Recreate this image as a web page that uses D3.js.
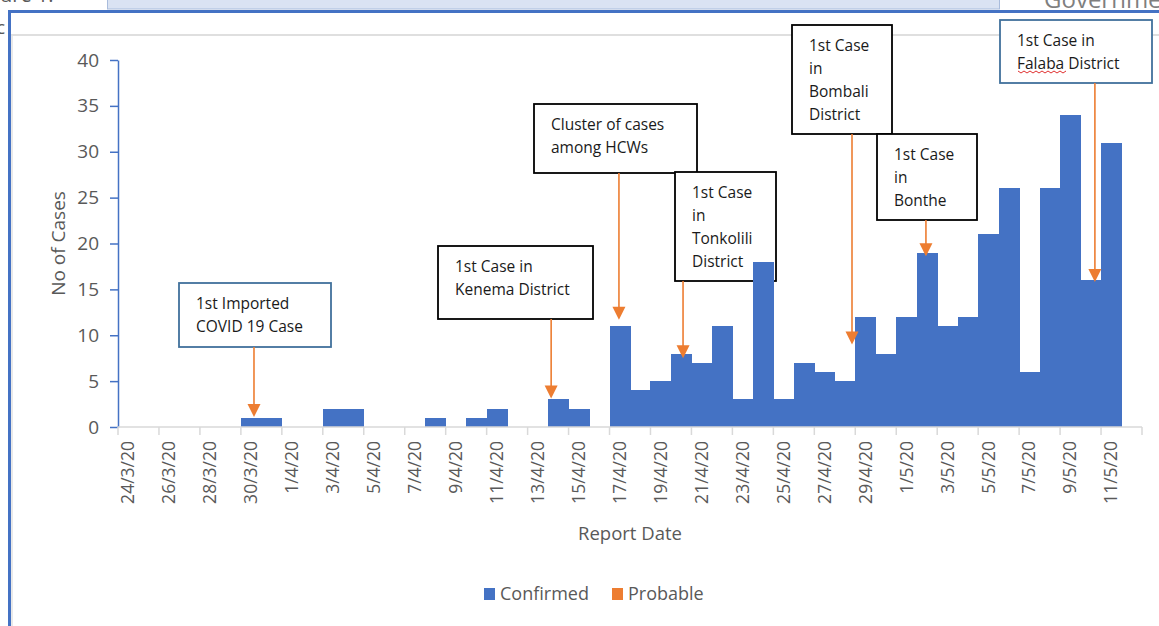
<!DOCTYPE html>
<html>
<head>
<meta charset="utf-8">
<script src="https://cdn.jsdelivr.net/npm/d3@7"></script>
<style>
  body { margin: 0; background: #fff; overflow: hidden; }
  svg { display: block; font-family: "Open Sans", sans-serif; }
</style>
</head>
<body>
<div id="chart"></div>
<script>
// daily report dates, 24 March to 12 May 2020
const reportDates = [
  "24/3/20", "25/3/20", "26/3/20", "27/3/20", "28/3/20", "29/3/20", "30/3/20", "31/3/20",
  "1/4/20", "2/4/20", "3/4/20", "4/4/20", "5/4/20", "6/4/20", "7/4/20", "8/4/20",
  "9/4/20", "10/4/20", "11/4/20", "12/4/20", "13/4/20", "14/4/20", "15/4/20", "16/4/20",
  "17/4/20", "18/4/20", "19/4/20", "20/4/20", "21/4/20", "22/4/20", "23/4/20", "24/4/20",
  "25/4/20", "26/4/20", "27/4/20", "28/4/20", "29/4/20", "30/4/20", "1/5/20", "2/5/20",
  "3/5/20", "4/5/20", "5/5/20", "6/5/20", "7/5/20", "8/5/20", "9/5/20", "10/5/20",
  "11/5/20", "12/5/20"
];

const confirmed = [
  0, 0, 0, 0, 0, 0, 1, 1,
  0, 0, 2, 2, 0, 0, 0, 1,
  0, 1, 2, 0, 0, 3, 2, 0,
  11, 4, 5, 8, 7, 11, 3, 18,
  3, 7, 6, 5, 12, 8, 12, 19,
  11, 12, 21, 26, 6, 26, 34, 16,
  31, 0
];

const yTicks = [0, 5, 10, 15, 20, 25, 30, 35, 40];
const seriesNames = ["Confirmed", "Probable"];

// annotation text, the date it points at, and the value the arrow reaches
const noteLines = [
  ["1st Imported", "COVID 19 Case"],
  ["1st Case in", "Kenema District"],
  ["Cluster of cases", "among HCWs"],
  ["1st Case", "in", "Tonkolili", "District"],
  ["1st Case", "in", "Bombali", "District"],
  ["1st Case", "in", "Bonthe"],
  ["1st Case in", "Falaba District"]
];
const noteDates = ["30/3/20", "14/4/20", "17/4/20", "20/4/20", "28/4/20", "2/5/20", "10/5/20"];
const noteTips = [1.1, 3.1, 11.7, 7.5, 9, 18.6, 15.8];

// layout of the callout boxes (pixels) and where in the day's bar the arrow lands
const noteBoxes = [
  { x: 179, y: 283, w: 152, h: 64, at: 0.64, stroke: "#41719C" },
  { x: 438, y: 246, w: 155, h: 73, at: 0.15, stroke: "#000" },
  { x: 534, y: 104, w: 163, h: 69, at: 0.46, stroke: "#000" },
  { x: 675, y: 172, w: 101, h: 109, at: 0.59, stroke: "#000" },
  { x: 792, y: 25, w: 100, h: 109, at: 0.84, stroke: "#000" },
  { x: 877, y: 134, w: 100, h: 86, at: 0.45, stroke: "#000" },
  { x: 1000, y: 20, w: 152, h: 63, at: 0.7, stroke: "#41719C" }
];

const width = 1159, height = 626;
const blue = "#4472C4", orange = "#ED7D31", grey = "#595959";

const svg = d3.select("#chart").append("svg")
  .attr("width", width)
  .attr("height", height);

// surrounding document bits (cut off by the page edge in the source too)
svg.append("text").attr("x", 0).attr("y", 2).attr("font-size", 20).attr("fill", grey).text("ure 1:");
svg.append("rect").attr("x", 107.5).attr("y", -2).attr("width", 892).attr("height", 11)
  .attr("fill", "#DAE3F3").attr("stroke", "#A9BCDC");
svg.append("text").attr("x", 1044).attr("y", 8).attr("font-size", 24).attr("fill", "#7f7f7f").text("Government");
svg.append("text").attr("x", -4).attr("y", 34).attr("font-size", 19).attr("fill", grey).text("c");
svg.append("rect").attr("x", 9.5).attr("y", 11.5).attr("width", 1200).attr("height", 700)
  .attr("fill", "#fff").attr("stroke", blue).attr("stroke-width", 3);
svg.append("line").attr("x1", 11).attr("x2", width).attr("y1", 35).attr("y2", 35)
  .attr("stroke", "#d4d4d4").attr("stroke-width", 1.5);
svg.append("line").attr("x1", 12).attr("x2", 12).attr("y1", 35).attr("y2", height)
  .attr("stroke", "#e2e2e2").attr("stroke-width", 1.5);

const x = d3.scaleBand()
  .domain(reportDates)
  .range([118, 1142])
  .padding(0);

const y = d3.scaleLinear()
  .domain([0, 40])
  .range([427, 60]);

const notes = noteLines.map((lines, i) => ({ lines, date: noteDates[i], tip: noteTips[i], box: noteBoxes[i] }));
const arrowX = d => x(d.date) + d.box.at * x.bandwidth();

// callout boxes sit behind the bars
svg.append("g").selectAll("rect")
  .data(notes)
  .join("rect")
  .attr("x", d => d.box.x)
  .attr("y", d => d.box.y)
  .attr("width", d => d.box.w)
  .attr("height", d => d.box.h)
  .attr("fill", "#fff")
  .attr("stroke", d => d.box.stroke)
  .attr("stroke-width", 1.8);

// bars
svg.append("g")
  .attr("shape-rendering", "crispEdges")
  .selectAll("rect")
  .data(reportDates.map((d, i) => ({ date: d, value: confirmed[i] })))
  .join("rect")
  .attr("x", d => x(d.date))
  .attr("width", x.bandwidth() + 0.6)
  .attr("y", d => y(d.value))
  .attr("height", d => y(0) - y(d.value))
  .attr("fill", blue);

// y axis
const yAxis = svg.append("g")
  .attr("transform", `translate(${x.range()[0]},0)`)
  .call(d3.axisLeft(y).tickValues(yTicks).tickSize(8).tickSizeOuter(0).tickPadding(11));
yAxis.select(".domain").attr("stroke", blue).attr("stroke-width", 1.5);
yAxis.selectAll(".tick line").attr("stroke", blue).attr("stroke-width", 1.5);
yAxis.selectAll("text").attr("font-size", 19).attr("fill", grey).attr("font-family", "Open Sans");

// x axis: grey baseline, tick marks between every second day
const xAxisG = svg.append("g");
xAxisG.append("line")
  .attr("x1", x.range()[0]).attr("x2", x.range()[1])
  .attr("y1", y(0)).attr("y2", y(0))
  .attr("stroke", "#d9d9d9").attr("stroke-width", 1.5);
const boundaries = reportDates.filter((d, i) => i % 2 === 0).map(d => x(d)).concat([x.range()[1]]);
xAxisG.selectAll("line.tk")
  .data(boundaries)
  .join("line")
  .attr("class", "tk")
  .attr("x1", d => d).attr("x2", d => d)
  .attr("y1", y(0)).attr("y2", y(0) + 8)
  .attr("stroke", "#d9d9d9").attr("stroke-width", 1.5);

const xLabels = svg.append("g")
  .attr("transform", `translate(0,${y(0)})`)
  .call(d3.axisBottom(x).tickValues(reportDates.filter((d, i) => i % 2 === 0)).tickSize(0));
xLabels.select(".domain").remove();
xLabels.selectAll("text")
  .attr("transform", "rotate(-90)")
  .attr("text-anchor", "end")
  .attr("x", -14)
  .attr("y", 0)
  .attr("dy", "0.35em")
  .attr("font-size", 17.5)
  .attr("font-family", "Open Sans")
  .attr("fill", grey);

// axis titles
svg.append("text")
  .attr("transform", `translate(65,${(y(0) + y(40)) / 2}) rotate(-90)`)
  .attr("text-anchor", "middle")
  .attr("font-size", 19)
  .attr("fill", grey)
  .text("No of Cases");

svg.append("text")
  .attr("x", (x.range()[0] + x.range()[1]) / 2)
  .attr("y", 540)
  .attr("text-anchor", "middle")
  .attr("font-size", 18.5)
  .attr("fill", grey)
  .text("Report Date");

// arrows and callout text on top
const noteG = svg.append("g").selectAll("g").data(notes).join("g");

noteG.append("line")
  .attr("x1", arrowX)
  .attr("x2", arrowX)
  .attr("y1", d => d.box.y + d.box.h)
  .attr("y2", d => y(d.tip) - 10)
  .attr("stroke", orange)
  .attr("stroke-width", 1.6);

noteG.append("path")
  .attr("d", d => {
    const ax = arrowX(d);
    const ty = y(d.tip);
    return `M${ax},${ty}L${ax - 6.5},${ty - 13}L${ax + 6.5},${ty - 13}Z`;
  })
  .attr("fill", orange);

noteG.each(function(d) {
  const t = d3.select(this).append("text")
    .attr("font-size", 15.5)
    .attr("fill", "#1a1a1a");
  d.lines.forEach((line, j) => {
    t.append("tspan")
      .attr("x", d.box.x + 17)
      .attr("y", d.box.y + 26 + j * 23)
      .text(line);
  });
});

// spell-check squiggle under "Falaba"
const sq = [];
for (let k = 0; k <= 16; k++) sq.push([1018 + k * 3, 71 + (k % 2 ? 2 : 0)]);
svg.append("path")
  .attr("d", d3.line()(sq))
  .attr("fill", "none")
  .attr("stroke", "#e03030")
  .attr("stroke-width", 1);

// legend
const legend = svg.append("g").attr("transform", "translate(484,588)");
const legendX = [0, 128];
seriesNames.forEach((name, i) => {
  legend.append("rect")
    .attr("x", legendX[i]).attr("y", 0)
    .attr("width", 11).attr("height", 12)
    .attr("fill", i === 0 ? blue : orange);
  legend.append("text")
    .attr("x", legendX[i] + 16).attr("y", 12)
    .attr("font-size", 18)
    .attr("fill", grey)
    .text(name);
});
</script>
</body>
</html>
